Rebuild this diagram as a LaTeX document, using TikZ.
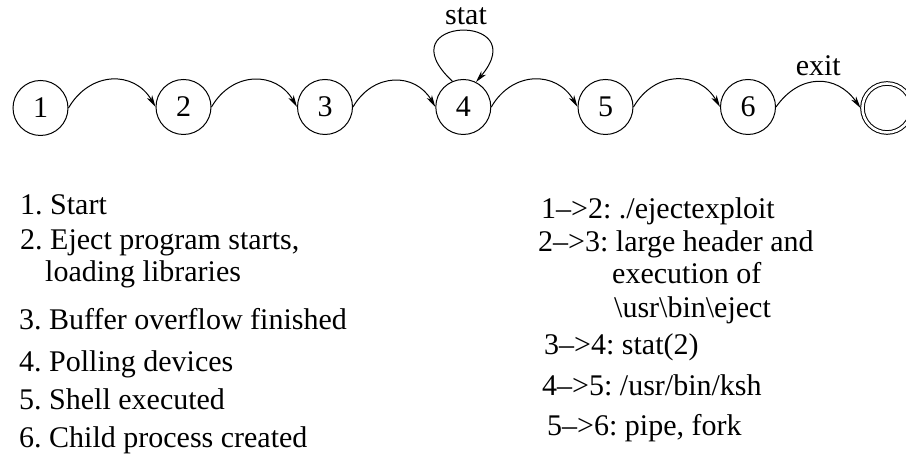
\documentclass[tikz,border=0pt]{standalone}
\usepackage{fontspec}
\setmainfont{Liberation Serif}
\usetikzlibrary{arrows.meta}
\frenchspacing

\begin{document}
\begin{tikzpicture}[x=1pt,y=1pt,
    every node/.style={font=\fontsize{30}{35}\selectfont},
    state/.style={circle, draw, line width=1pt, minimum size=55pt, inner sep=0pt},
    final/.style={circle, draw, line width=1pt, double, double distance=2.6pt,
                  minimum size=49pt, inner sep=0pt, outer sep=2pt},
    trans/.style={line width=1pt, -{Stealth[length=12pt,width=6pt,inset=3.5pt]},
                  out=60, in=120, looseness=1.25},
    txt/.style={anchor=base west, inner sep=0pt}]
  \useasboundingbox (0,0) rectangle (906,457);

  % automaton states
  \node[state] (s1) at (40.5,349) {1};
  \node[state] (s2) at (183.5,350) {2};
  \node[state] (s3) at (325,350) {3};
  \node[state] (s4) at (463.3,350) {4};
  \node[state] (s5) at (605.5,350) {5};
  \node[state] (s6) at (748,350) {6};
  \node[final] (sf) at (887,349) {};

  % transitions
  \draw[trans] (s1.east) to (s2.west);
  \draw[trans] (s2.east) to (s3.west);
  \draw[trans] (s3.east) to (s4.west);
  \draw[trans] (s4.east) to (s5.west);
  \draw[trans] (s5.east) to (s6.west);
  \draw[trans, out=55, in=125] (s6.east) to node[above, pos=0.5, yshift=2pt] (lexit) {exit} (sf.west);

  % self loop on state 4
  \draw[line width=1pt, -{Stealth[length=12pt,width=6pt,inset=3.5pt]}]
    (s4.113) .. controls +(137:95) and +(50:92) .. (s4.63);
  \node[txt] (lstat) at (445,432) {stat};

  % state descriptions
  \node[txt] (d1)  at (20,242) {1. Start};
  \node[txt] (d2)  at (20,207) {2. Eject program starts,};
  \node[txt] (d2b) at (45,175) {loading libraries};
  \node[txt] (d3)  at (19,127) {3. Buffer overflow finished};
  \node[txt] (d4)  at (19,85)  {4. Polling devices};
  \node[txt] (d5)  at (19,47)  {5. Shell executed};
  \node[txt] (d6)  at (19,9)   {6. Child process created};

  % transition descriptions
  \node[txt] (t12)  at (541,238) {1\textendash>2: ./ejectexploit};
  \node[txt] (t23)  at (538,205) {2\textendash>3: large header and};
  \node[txt] (t23b) at (612,173) {execution of};
  \node[txt] (t23c) at (614,139) {\textbackslash usr\textbackslash bin\textbackslash eject};
  \node[txt] (t34)  at (544,102) {3\textendash>4: stat(2)};
  \node[txt] (t45)  at (542,61)  {4\textendash>5: /usr/bin/ksh};
  \node[txt] (t56)  at (547,21)  {5\textendash>6: pipe, fork};
\end{tikzpicture}
\end{document}
